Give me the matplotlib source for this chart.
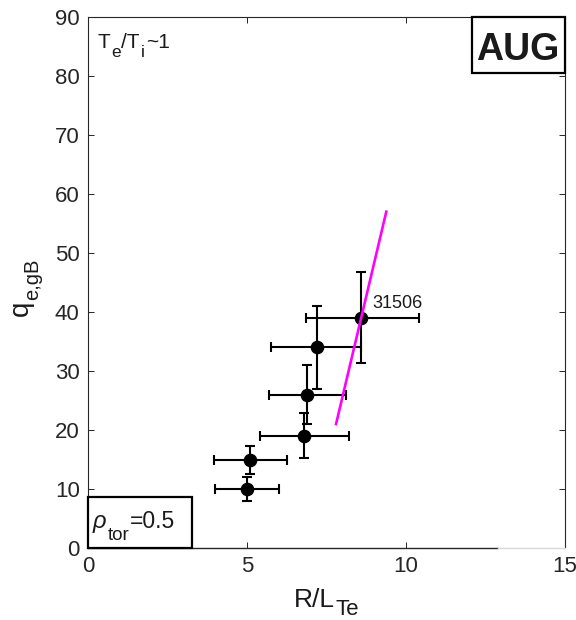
import matplotlib
matplotlib.use("Agg")
import matplotlib.pyplot as plt
from matplotlib.font_manager import FontProperties
from matplotlib.patches import Rectangle

plt.rcParams['font.family'] = ['Liberation Sans', 'DejaVu Sans']

# data
x = [5.0, 5.1, 6.8, 6.9, 7.2, 8.6]
y = [10, 15, 19, 26, 34, 39]
x_lo = [4.0, 3.95, 5.4, 5.7, 5.75, 6.85]
x_hi = [6.0, 6.25, 8.2, 8.1, 8.6, 10.4]
y_lo = [8.0, 12.5, 15.3, 21.0, 27.0, 31.3]
y_hi = [12.0, 17.3, 22.8, 31.0, 41.0, 46.8]
line_x = [7.8, 9.38]
line_y = [21, 57]
shot_label = "31506"
xticks = [0, 5, 10, 15]
yticks = list(range(0, 91, 10))

W, H = 576, 620
fig = plt.figure(figsize=(W / 100, H / 100), dpi=100)
ax = fig.add_axes([88 / W, (H - 548) / H, 477 / W, 531 / H])
renderer = fig.canvas.get_renderer()
TXT = '#1a1a1a'


def rich_text(px, py, pieces, rotation=0, ha='left'):
    """px, py in image pixel coords (y downward); pieces = (text, size, drop_px, style, weight)."""
    props, widths = [], []
    for s, size, drop, style, weight in pieces:
        fp = FontProperties(family=['Liberation Sans', 'DejaVu Sans'], size=size,
                            style=style, weight=weight)
        w, h, d = renderer.get_text_width_height_descent(s, fp, ismath=False)
        props.append(fp)
        widths.append(w)
    total = sum(widths) + 1.0 * (len(pieces) - 1)
    dy = H - py
    cum = -total / 2 if ha == 'center' else 0.0
    for (s, size, drop, style, weight), fp, w in zip(pieces, props, widths):
        if rotation == 0:
            X, Y = px + cum, dy - drop
        else:
            X, Y = px + drop, dy + cum
        fig.text(X / W, Y / H, s, fontproperties=fp, rotation=rotation,
                 rotation_mode='anchor', ha='left', va='baseline', color=TXT)
        cum += w + 1.0


xerr = [[a - b for a, b in zip(x, x_lo)], [b - a for a, b in zip(x, x_hi)]]
yerr = [[a - b for a, b in zip(y, y_lo)], [b - a for a, b in zip(y, y_hi)]]
ax.errorbar(x, y, xerr=xerr, yerr=yerr, fmt='o', color='black', ms=8.8,
            elinewidth=1.5, capsize=3.6, capthick=1.5, zorder=3)
ax.plot(line_x, line_y, color='#ff00ff', lw=1.9, zorder=4)
ax.text(8.95, 41.5, shot_label, fontsize=13, va='center', ha='left', color=TXT)

ax.set_xlim(0, 15)
ax.set_ylim(0, 90)
ax.set_xticks(xticks)
ax.set_yticks(yticks)
ax.tick_params(direction='in', top=True, right=True, labelsize=16,
               labelcolor='#262626', color='#262626', length=4, width=0.7, pad=6)
for s in ax.spines.values():
    s.set_color('#262626')
    s.set_linewidth(0.8)
ax.spines['bottom'].set_visible(False)
ax.plot([0, 0.86], [0, 0], transform=ax.transAxes, color='#262626', lw=1.0,
        clip_on=False, zorder=5)
ax.plot([0.86, 1.0], [0, 0], transform=ax.transAxes, color='#d8d8d8', lw=1.0,
        clip_on=False, zorder=5)

# axis labels
rich_text(326.5, 607, [('R/L', 19, 0, 'normal', 'normal'),
                       ('Te', 16, 8, 'normal', 'normal')], ha='center')
rich_text(28, 287, [('q', 20, 0, 'normal', 'normal'),
                    ('e,gB', 14.5, 10, 'normal', 'normal')], rotation=90, ha='center')

# annotations
rich_text(97, 48, [('T', 15, 0, 'normal', 'normal'), ('e', 12.5, 9, 'normal', 'normal'),
                   ('/T', 15, 0, 'normal', 'normal'), ('i', 12.5, 9, 'normal', 'normal'),
                   ('~1', 15, 0, 'normal', 'normal')])

ax.add_patch(Rectangle((0.805, 0.8945), 0.195, 0.1055, transform=ax.transAxes,
                       fc='white', ec='black', lw=1.6, zorder=6, clip_on=False))
rich_text(517.5, 60, [('AUG', 27, 0, 'normal', 'bold')], ha='center')

ax.add_patch(Rectangle((0.0, 0.0), 0.218, 0.096, transform=ax.transAxes,
                       fc='white', ec='black', lw=1.6, zorder=6, clip_on=False))
rich_text(93, 528, [('ρ', 17, 0, 'italic', 'normal'), ('tor', 13.5, 12, 'normal', 'normal'),
                    ('=0.5', 16.5, 0, 'normal', 'normal')])

fig.savefig('out.png', dpi=100)
